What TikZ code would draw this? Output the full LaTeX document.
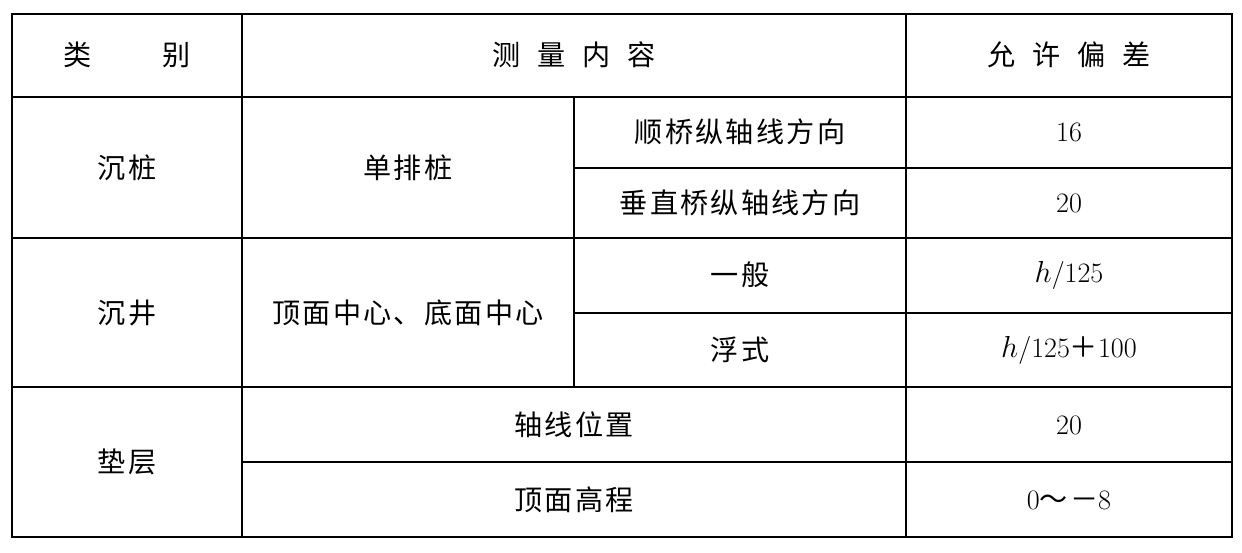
\documentclass[tikz,border=0pt]{standalone}
\usepackage{fontspec}
\newfontfamily\cjk[LetterSpace=8]{Noto Sans CJK SC}
\tikzset{
x=0.02cm,y=-0.02cm,
grid line/.style={line width=0.6pt},
frame line/.style={line width=1.6pt},
cell/.style={font=\cjk\fontsize{16}{19}\selectfont,inner sep=0pt},
num/.style={font=\fontsize{16}{19}\selectfont,inner sep=0pt}
}
\begin{document}
\begin{tikzpicture}
\useasboundingbox (0,0) rectangle (1242,553);
% grid
\draw[grid line] (12,97) -- (1232,97);
\draw[grid line] (574,168) -- (1232,168);
\draw[grid line] (12,238) -- (1232,238);
\draw[grid line] (574,313) -- (1232,313);
\draw[grid line] (12,387) -- (1232,387);
\draw[grid line] (242,462) -- (1232,462);
\draw[grid line] (242,14) -- (242,537);
\draw[grid line] (574,97) -- (574,387);
\draw[grid line] (906,14) -- (906,537);
\draw[frame line] (12,14) rectangle (1232,537);
% header
\node[cell] (h1) at (127,55) {类\hspace{2.5em}别};
\node[cell] (h2) at (574,55) {测\hspace{0.6em}量\hspace{0.6em}内\hspace{0.6em}容};
\node[cell] (h3) at (1069,55) {允\hspace{0.6em}许\hspace{0.6em}偏\hspace{0.6em}差};
% 沉桩
\node[cell] (a1) at (127,168) {沉桩};
\node[cell] (a2) at (408,168) {单排桩};
\node[cell] (a3) at (740,132) {顺桥纵轴线方向};
\node[cell] (a4) at (740,203) {垂直桥纵轴线方向};
\node[num] (a5) at (1069,132) {16};
\node[num] (a6) at (1069,203) {20};
% 沉井
\node[cell] (b1) at (127,313) {沉井};
\node[cell] (b2) at (408,313) {顶面中心{\cjk 、}底面中心};
\node[cell] (b3) at (740,275) {一般};
\node[cell] (b4) at (740,350) {浮式};
\node[num] (b5) at (1069,275) {$h$/125};
\node[num] (b6) at (1069,350) {$h$/125{\cjk ＋}100};
% 垫层
\node[cell] (c1) at (127,462) {垫层};
\node[cell] (c2) at (574,425) {轴线位置};
\node[cell] (c3) at (574,500) {顶面高程};
\node[num] (c4) at (1069,425) {20};
\node[num] (c5) at (1069,500) {0{\cjk ～－}8};
\end{tikzpicture}
\end{document}
